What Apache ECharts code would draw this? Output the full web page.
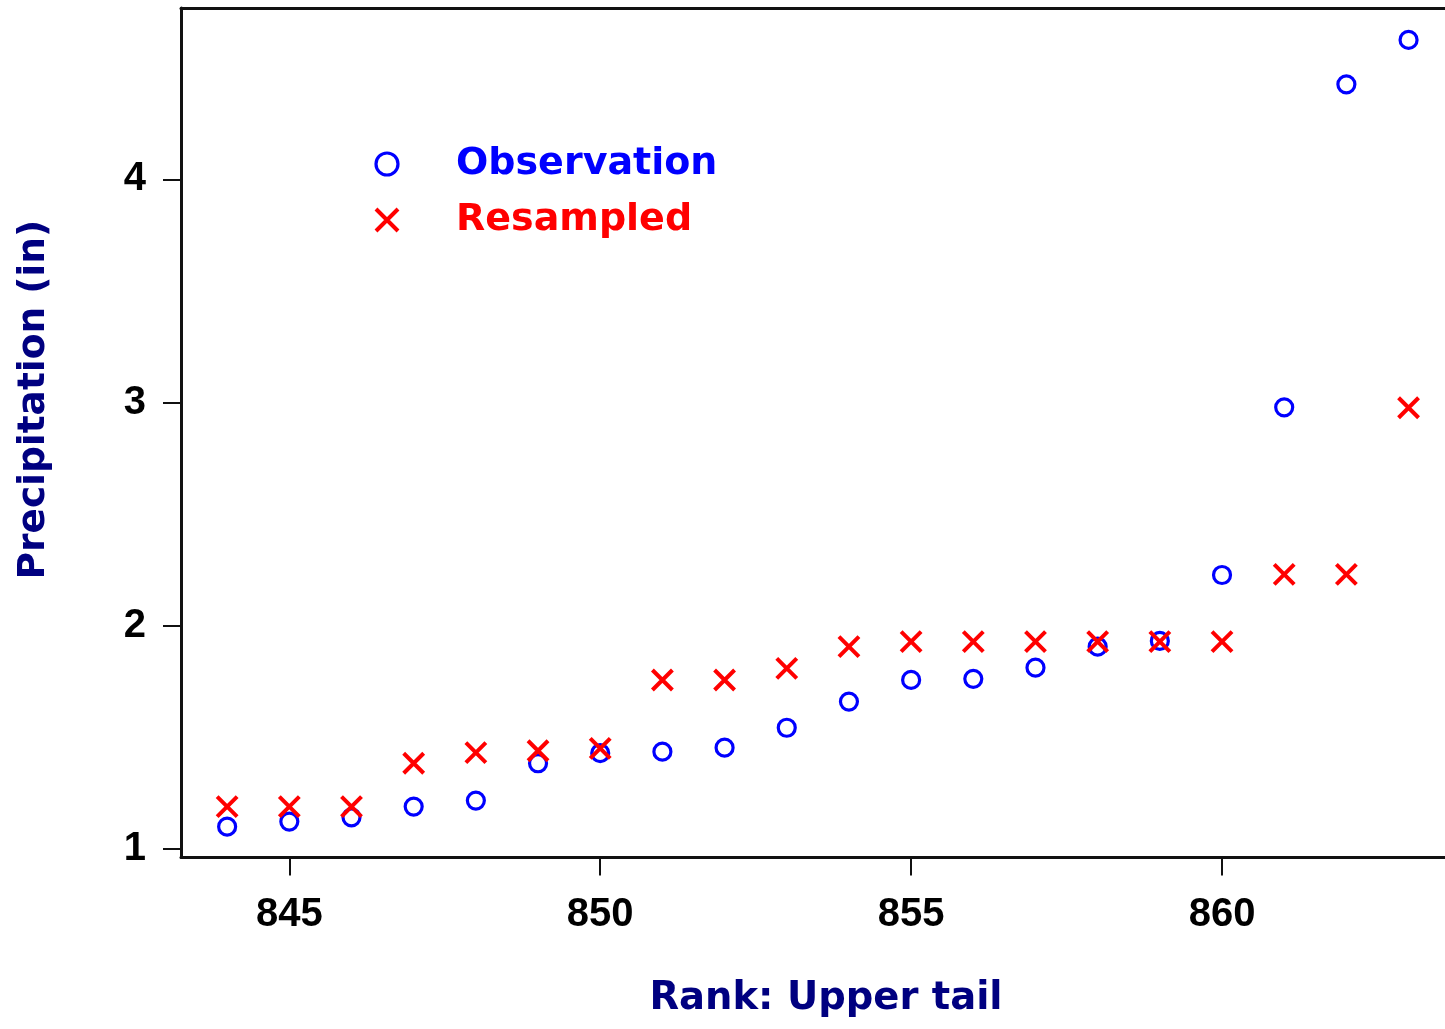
<!DOCTYPE html>
<html>
<head>
<meta charset="utf-8">
<title>Precipitation: upper tail ranks</title>
<script src="https://cdn.jsdelivr.net/npm/echarts@6/dist/echarts.min.js"></script>
<style>
  html, body { margin: 0; padding: 0; background: #ffffff; }
  #chart { width: 1445px; height: 1029px; }
</style>
</head>
<body>
<div id="chart"></div>
<script>
// Ranks of the upper tail (x) and precipitation amounts in inches (y)
const ranks = [844, 845, 846, 847, 848, 849, 850, 851, 852, 853,
               854, 855, 856, 857, 858, 859, 860, 861, 862, 863];
const observation = [1.101, 1.124, 1.143, 1.191, 1.218, 1.385, 1.430, 1.437, 1.455, 1.544,
                     1.661, 1.758, 1.763, 1.813, 1.907, 1.933, 2.228, 2.979, 4.425, 4.624];
const resampled = [1.191, 1.191, 1.191, 1.385, 1.433, 1.441, 1.452, 1.758, 1.758, 1.810,
                   1.907, 1.930, 1.930, 1.930, 1.930, 1.930, 1.930, 2.231, 2.231, 2.977];
const xTicks = [845, 850, 855, 860];
const yTicks = [1, 2, 3, 4];
const seriesNames = ['Observation', 'Resampled'];

const BLUE = '#0000ff';
const RED = '#ff0000';
const NAVY = '#000080';
const AXIS = '#111111';
const tickFont = '"Liberation Sans Narrow", "Arial Narrow", "Liberation Sans", Arial, sans-serif';
const titleFont = '"DejaVu Sans", Verdana, sans-serif';
const crossPath = 'path://M0,0L1,1M1,0L0,1';

const pairs = (ys) => ranks.map((r, i) => [r, ys[i]]);

const chart = echarts.init(document.getElementById('chart'), null, { renderer: 'canvas' });

chart.setOption({
  animation: false,
  backgroundColor: '#ffffff',
  grid: { left: 181, right: 0, top: 8, bottom: 171.5, containLabel: false },
  legend: {
    orient: 'vertical',
    left: 369,
    top: 140,
    itemWidth: 22,
    itemHeight: 22,
    itemGap: 18,
    selectedMode: false,
    data: [
      { name: seriesNames[0], textStyle: { color: BLUE },
        itemStyle: { color: 'rgba(0,0,0,0)', borderColor: BLUE, borderWidth: 3.2 } },
      { name: seriesNames[1], textStyle: { color: RED },
        itemStyle: { color: RED, borderColor: RED, borderWidth: 4 } }
    ],
    textStyle: {
      fontFamily: titleFont,
      fontWeight: 'bold',
      fontSize: 38,
      padding: [0, 0, 0, 53]
    }
  },
  xAxis: [
    {
      type: 'value',
      position: 'bottom',
      min: 843.258,
      max: 863.586,
      splitLine: { show: false },
      axisLine: { show: true, onZero: false, lineStyle: { color: AXIS, width: 3 } },
      axisTick: { show: true, inside: false, length: 18, customValues: xTicks,
                  lineStyle: { color: AXIS, width: 2 } },
      axisLabel: {
        customValues: xTicks,
        margin: 37,
        color: '#000000',
        fontFamily: tickFont,
        fontWeight: 'bold',
        fontSize: 40
      },
      name: 'Rank: Upper tail',
      nameLocation: 'middle',
      nameGap: 122,
      nameTextStyle: {
        color: NAVY,
        fontFamily: titleFont,
        fontWeight: 'bold',
        fontSize: 38.5,
        padding: [0, 0, 0, 26]
      }
    },
    {
      type: 'value',
      position: 'top',
      min: 843.258,
      max: 863.586,
      splitLine: { show: false },
      axisLine: { show: true, onZero: false, lineStyle: { color: AXIS, width: 3 } },
      axisTick: { show: false },
      axisLabel: { show: false }
    }
  ],
  yAxis: {
    type: 'value',
    min: 0.963,
    max: 4.767,
    splitLine: { show: false },
    axisLine: { show: true, onZero: false, lineStyle: { color: AXIS, width: 3 } },
    axisTick: { show: true, inside: false, length: 18, customValues: yTicks,
                lineStyle: { color: AXIS, width: 2 } },
    axisLabel: {
      customValues: yTicks,
      margin: 35,
      color: '#000000',
      fontFamily: tickFont,
      fontWeight: 'bold',
      fontSize: 40
    },
    name: 'Precipitation (in)',
    nameLocation: 'middle',
    nameGap: 128,
    nameTextStyle: {
      color: NAVY,
      fontFamily: titleFont,
      fontWeight: 'bold',
      fontSize: 37.5,
      padding: [0, 0, 0, 66]
    }
  },
  series: [
    {
      name: seriesNames[0],
      type: 'scatter',
      xAxisIndex: 0,
      data: pairs(observation),
      symbol: 'circle',
      symbolSize: 17,
      itemStyle: { color: 'rgba(0,0,0,0)', borderColor: BLUE, borderWidth: 3.2, opacity: 1 },
      emphasis: { disabled: true }
    },
    {
      name: seriesNames[1],
      type: 'scatter',
      xAxisIndex: 0,
      data: pairs(resampled),
      symbol: crossPath,
      symbolSize: 20,
      itemStyle: { color: RED, borderColor: RED, borderWidth: 4, opacity: 1 },
      emphasis: { disabled: true }
    }
  ]
});
</script>
</body>
</html>
